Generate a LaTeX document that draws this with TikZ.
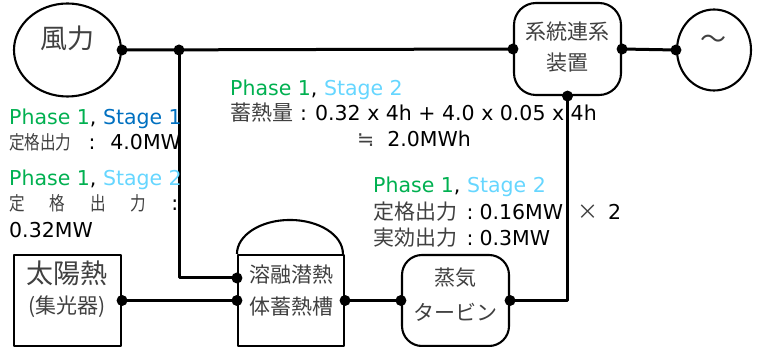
\documentclass[tikz,border=0pt]{standalone}
\usepackage{fontspec}
\setmainfont{DejaVu Sans}
\newfontfamily\jp{Noto Sans CJK JP}
\usetikzlibrary{shapes.geometric}
\definecolor{pg}{RGB}{0,176,80}
\definecolor{sb}{RGB}{0,112,192}
\definecolor{lb}{RGB}{102,214,255}
\definecolor{jg}{RGB}{64,64,64}
\newcommand{\lat}{\fontsize{20.5}{24}\selectfont}
\newcommand{\J}[2]{{\jp\fontsize{#1}{#1}\selectfont\color{jg}#2}}
\newcommand{\JN}[1]{\scalebox{0.82}[1]{\J{19}{#1}}}
\begin{document}
\begin{tikzpicture}[x=1pt,y=-1pt,line join=round,
  wire/.style={line width=3pt},
  shp/.style={draw,line width=2.1pt,inner sep=0pt},
  lbl/.style={anchor=base west,inner sep=0pt,font=\lat},
  txt/.style={inner sep=0pt}]
\useasboundingbox (0,0) rectangle (760,347);
% shapes
\node[shp,ellipse,minimum width=107pt,minimum height=93pt] (wind) at (67.5,50) {};
\node[txt] (windt) at (67,38) {\J{27}{風力}};
\node[shp,rounded corners=22pt,minimum width=107pt,minimum height=92pt] (grid) at (567.5,49) {};
\node[txt] (gridt1) at (567.5,32) {\J{21}{系統連系}};
\node[txt] (gridt2) at (567.5,63) {\J{21}{装置}};
\node[shp,ellipse,minimum width=74pt,minimum height=81pt] (ac) at (714,50) {};
\node[txt] (act) at (713,42) {\J{26}{〜}};
\node[shp,minimum width=107pt,minimum height=91pt] (solar) at (67.5,300.5) {};
\node[txt] (solart1) at (67.5,273) {\J{27}{太陽熱}};
\node[txt] (solart2) at (67.5,307) {\J{21}{(集光器)}};
\node[shp,minimum width=106pt,minimum height=91pt] (tank) at (291,300.5) {};
\draw[line width=2.1pt] (tank.north west) arc[start angle=180,end angle=0,x radius=53pt,y radius=34pt];
\node[txt] (tankt1) at (291,275) {\J{21}{溶融潜熱}};
\node[txt] (tankt2) at (291,307) {\J{21}{体蓄熱槽}};
\node[shp,rounded corners=20pt,minimum width=107pt,minimum height=91pt] (turb) at (455.5,300.5) {};
\node[txt] (turbt1) at (455.5,278) {\J{21}{蒸気}};
\node[txt] (turbt2) at (455.5,312) {\J{21}{タービン}};
% connection points
\coordinate (j1) at (179,50);
\coordinate (tin1) at ([yshift=22.5pt]tank.west);
% wires
\draw[wire] (wind.east) -- (grid.west);
\draw[wire] (j1) |- (tin1);
\draw[wire] (grid.east) -- (ac.west);
\draw[wire] (grid.south) |- (turb.east);
\draw[wire] (solar.east) -- (tank.west);
\draw[wire] (tank.east) -- (turb.west);
% dots
\foreach \p in {wind.east,j1,grid.west,grid.east,ac.west,grid.south,tin1,tank.west,solar.east,tank.east,turb.west,turb.east}
  \fill (\p) circle (5.5pt);
% labels
\node[lbl] (l1a) at (9,125) {\textcolor{pg}{Phase 1}, \textcolor{sb}{Stage 1}};
\node[lbl] (l1b) at (9,150) {\JN{定格出力}\hspace{17pt}:\hspace{15pt}4.0MW};
\node[lbl] (l2a) at (9,186) {\textcolor{pg}{Phase 1}, \textcolor{lb}{Stage 2}};
\node[lbl] (l2b) at (9,211) {\makebox[169pt][s]{\JN{定}\hfill\JN{格}\hfill\JN{出}\hfill\JN{力}\hfill :}};
\node[lbl] (l2c) at (9,238) {0.32MW};
\node[lbl] (m1) at (230,96) {\textcolor{pg}{Phase 1}, \textcolor{lb}{Stage 2}};
\node[lbl] (m2) at (230,121) {\J{21}{蓄熱量}\hspace{7pt}:\hspace{8pt}0.32 x 4h + 4.0 x 0.05 x 4h};
\node[lbl] (m3) at (357,147) {{\color{jg}≒}\hspace{13pt}2.0MWh};
\node[lbl] (r1) at (373,193) {\textcolor{pg}{Phase 1}, \textcolor{lb}{Stage 2}};
\node[lbl] (r2) at (373,220) {\J{21}{定格出力}\hspace{9.5pt}:\hspace{6pt}0.16MW\hspace{14pt}\J{21}{×}\hspace{10pt}2};
\node[lbl] (r3) at (373,246) {\J{21}{実効出力}\hspace{9.5pt}:\hspace{6pt}0.3MW};
\end{tikzpicture}
\end{document}
